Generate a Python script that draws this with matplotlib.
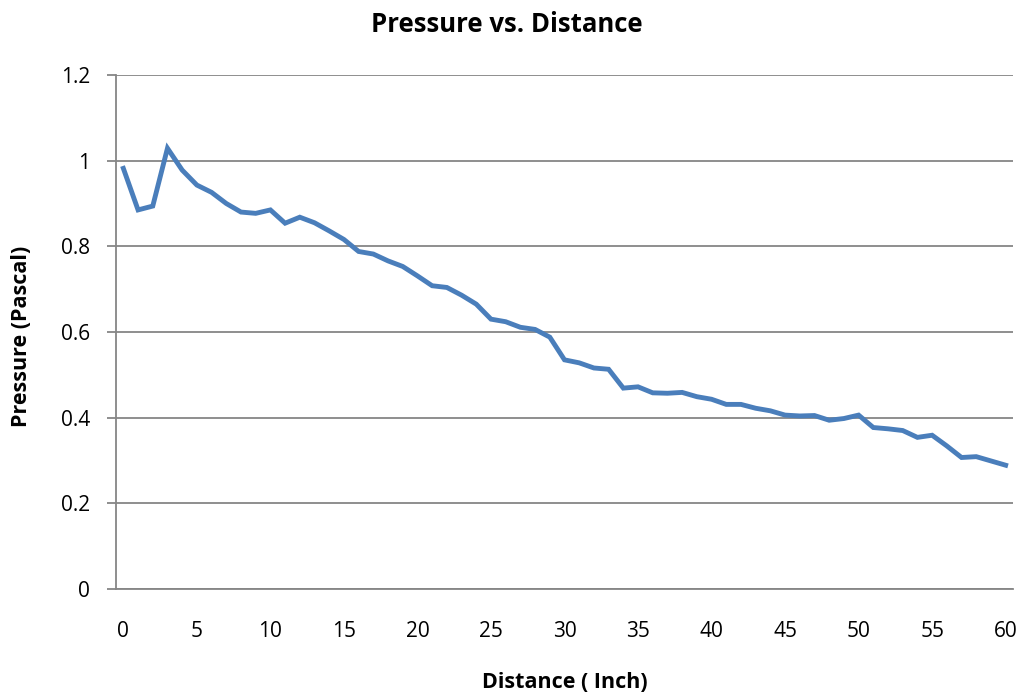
import numpy as np
import matplotlib.pyplot as plt

plt.rcParams['font.family'] = ['Open Sans', 'DejaVu Sans']

distance = np.arange(0, 61)
pressure = [0.982, 0.885, 0.894, 1.029, 0.978, 0.943, 0.926, 0.900, 0.880, 0.877,
            0.885, 0.854, 0.868, 0.855, 0.836, 0.816, 0.788, 0.782, 0.766, 0.753,
            0.731, 0.708, 0.704, 0.686, 0.665, 0.630, 0.624, 0.611, 0.606, 0.588,
            0.535, 0.528, 0.516, 0.513, 0.469, 0.472, 0.458, 0.457, 0.459, 0.449,
            0.443, 0.431, 0.431, 0.422, 0.416, 0.406, 0.404, 0.405, 0.394, 0.398,
            0.406, 0.377, 0.374, 0.370, 0.354, 0.359, 0.334, 0.307, 0.309, 0.299,
            0.289]
x_ticks = np.arange(0, 61, 5)
y_ticks = [0, 0.2, 0.4, 0.6, 0.8, 1.0, 1.2]
y_labels = ['0', '0.2', '0.4', '0.6', '0.8', '1', '1.2']

grey = '#868686'

fig = plt.figure(figsize=(10.22, 6.95), dpi=100)
ax = fig.add_axes([0.1135, 0.1525, 0.8777, 0.7396])

ax.plot(distance, pressure, color='#4a7ebb', lw=3.5, solid_joinstyle='miter')

ax.set_xlim(-0.5, 60.5)
ax.set_ylim(0, 1.2)
ax.set_xticks(x_ticks)
ax.set_yticks(y_ticks)
ax.set_yticklabels(y_labels)

ax.grid(True, axis='y', color=grey, lw=1.3)
ax.set_axisbelow(True)
for side in ['top', 'right']:
    ax.spines[side].set_visible(False)
for side in ['left', 'bottom']:
    ax.spines[side].set_color(grey)
    ax.spines[side].set_linewidth(1.3)

ax.tick_params(axis='x', length=0, pad=23, labelsize=15)
ax.tick_params(axis='y', length=6.5, width=1.3, color=grey, pad=12, labelsize=15)

# titles placed in figure coordinates like the original
fig.text(507 / 1022, 1 - 25 / 695, 'Pressure vs. Distance', fontsize=18.5,
         fontweight='bold', ha='center', va='center')
fig.text(565 / 1022, 1 - 683 / 695, 'Distance ( Inch)', fontsize=15.5,
         fontweight='bold', ha='center', va='center')
fig.text(22 / 1022, 1 - 336 / 695, 'Pressure (Pascal)', fontsize=15.5,
         fontweight='bold', ha='center', va='center', rotation=90)

fig.savefig('out.png', dpi=100)
